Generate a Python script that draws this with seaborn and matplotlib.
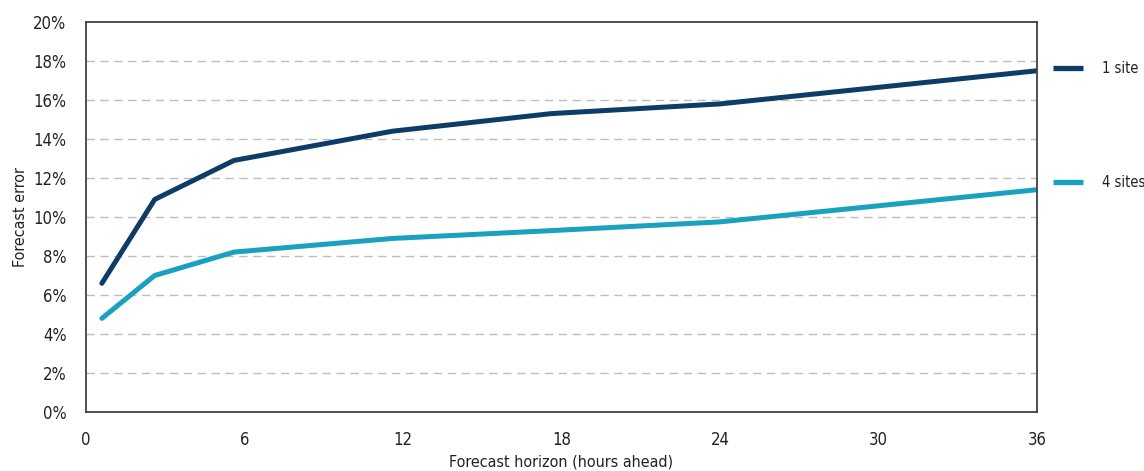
import matplotlib
matplotlib.use("Agg")
import matplotlib.pyplot as plt
import seaborn as sns
import pandas as pd
from matplotlib.ticker import FuncFormatter, MultipleLocator

# Forecast error by horizon, for a single site and for an aggregate of four sites
horizon_hours = [0.6, 2.6, 5.6, 11.6, 17.6, 24.0, 36.0]
error_1_site = [6.6, 10.9, 12.9, 14.4, 15.3, 15.8, 17.5]
error_4_sites = [4.8, 7.0, 8.2, 8.9, 9.3, 9.75, 11.4]
series_names = ["1 site", "4 sites"]
series_colors = ["#0d3d66", "#1aa1bf"]
x_ticks = [0, 6, 12, 18, 24, 30, 36]

df = pd.DataFrame({
    "horizon": horizon_hours * 2,
    "error": error_1_site + error_4_sites,
    "series": [series_names[0]] * len(horizon_hours) + [series_names[1]] * len(horizon_hours),
})

sns.set_theme(style="white")
plt.rcParams["font.family"] = ["DejaVu Sans"]
plt.rcParams["font.stretch"] = "condensed"

fig = plt.figure(figsize=(11.44, 4.71), dpi=100)
ax = fig.add_axes([0.0752, 0.1253, 0.8313, 0.8280])

sns.lineplot(data=df, x="horizon", y="error", hue="series",
             palette=dict(zip(series_names, series_colors)),
             linewidth=3.6, ax=ax, legend=True)

ax.set_xlim(0, 36)
ax.set_ylim(0, 20)
ax.set_xticks(x_ticks)
ax.yaxis.set_major_locator(MultipleLocator(2))
ax.yaxis.set_major_formatter(FuncFormatter(lambda v, _: f"{v:.0f}%"))

for y in range(2, 20, 2):
    ax.axhline(y, color="#bdbdbd", linestyle=(0, (6, 4)), linewidth=1.0, zorder=0)

for s in ax.spines.values():
    s.set_color("#404040")
    s.set_linewidth(1.3)

ax.tick_params(axis="x", direction="in", length=6, width=1, color="#404040",
               labelsize=12, pad=14, labelcolor="#222222")
ax.tick_params(axis="y", length=0, labelsize=12, pad=14, labelcolor="#222222")

ax.set_xlabel("Forecast horizon (hours ahead)", fontsize=11.5, color="#222222", labelpad=4)
ax.set_ylabel("Forecast error", fontsize=11.5, color="#222222", labelpad=4)

handles, labels = ax.get_legend_handles_labels()
for h in handles:
    h.set_linewidth(3.8)
    h.set_solid_capstyle("butt")
leg = ax.legend(handles, labels, loc="upper left", bbox_to_anchor=(1.0106, 0.915),
                frameon=False, fontsize=10.5, handlelength=2.05, handletextpad=1.3,
                labelspacing=6.8, borderaxespad=0)
for t in leg.get_texts():
    t.set_color("#222222")

fig.savefig("out.png", dpi=100)
